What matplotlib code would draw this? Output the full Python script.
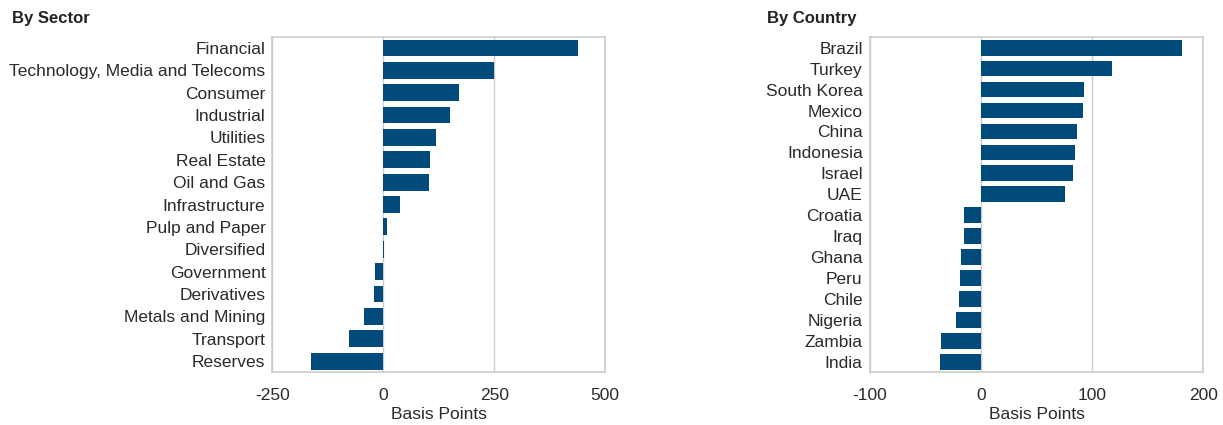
import matplotlib
matplotlib.use("Agg")
import matplotlib.pyplot as plt

plt.rcParams['font.family'] = ['Liberation Sans', 'DejaVu Sans']

sectors = ["Financial", "Technology, Media and Telecoms", "Consumer", "Industrial",
           "Utilities", "Real Estate", "Oil and Gas", "Infrastructure",
           "Pulp and Paper", "Diversified", "Government", "Derivatives",
           "Metals and Mining", "Transport", "Reserves"]
sector_bp = [439, 250, 171, 150, 119, 105, 103, 38, 8, 1, -19, -21, -44, -77, -164]

countries = ["Brazil", "Turkey", "South Korea", "Mexico", "China", "Indonesia",
             "Israel", "UAE", "Croatia", "Iraq", "Ghana", "Peru", "Chile",
             "Nigeria", "Zambia", "India"]
country_bp = [181, 118, 93, 92, 86, 85, 83, 76, -15, -15, -18, -19, -20, -22, -36, -37]

sector_ticks = [-250, 0, 250, 500]
country_ticks = [-100, 0, 100, 200]

BAR = "#004b7c"
TXT = "#2a2a2a"
GRID = "#cccccc"

fig = plt.figure(figsize=(12.23, 4.25), dpi=100)
ax1 = fig.add_axes([0.2227, 0.124, 0.2722, 0.7896])
ax2 = fig.add_axes([0.7111, 0.124, 0.2728, 0.7884])

def draw(ax, cats, vals, ticks):
    y = list(range(len(cats)))
    ax.set_axisbelow(True)
    ax.grid(axis='x', color=GRID, linewidth=1)
    ax.grid(axis='y', visible=False)
    ax.barh(y, vals, height=0.75, color=BAR, zorder=3)
    ax.set_yticks(y)
    ax.set_yticklabels(cats)
    ax.set_ylim(len(cats) - 0.5, -0.5)
    ax.set_xlim(ticks[0], ticks[-1])
    ax.set_xticks(ticks)
    ax.set_xticklabels([str(t) for t in ticks])
    ax.tick_params(axis='both', length=0, labelsize=12.5, colors=TXT)
    ax.tick_params(axis='x', pad=11)
    ax.tick_params(axis='y', pad=5)
    ax.set_xlabel("Basis Points", fontsize=12.5, color=TXT, labelpad=3)
    for s in ax.spines.values():
        s.set_color(GRID)
        s.set_linewidth(1.2)

draw(ax1, sectors, sector_bp, sector_ticks)
draw(ax2, countries, country_bp, country_ticks)

fig.text(12 / 1223, 1 - 19 / 425, "By Sector", fontsize=12, fontweight='bold',
         color="#222222", ha='left', va='center')
fig.text(767 / 1223, 1 - 19 / 425, "By Country", fontsize=12, fontweight='bold',
         color="#222222", ha='left', va='center')

fig.savefig("out.png", dpi=100)
